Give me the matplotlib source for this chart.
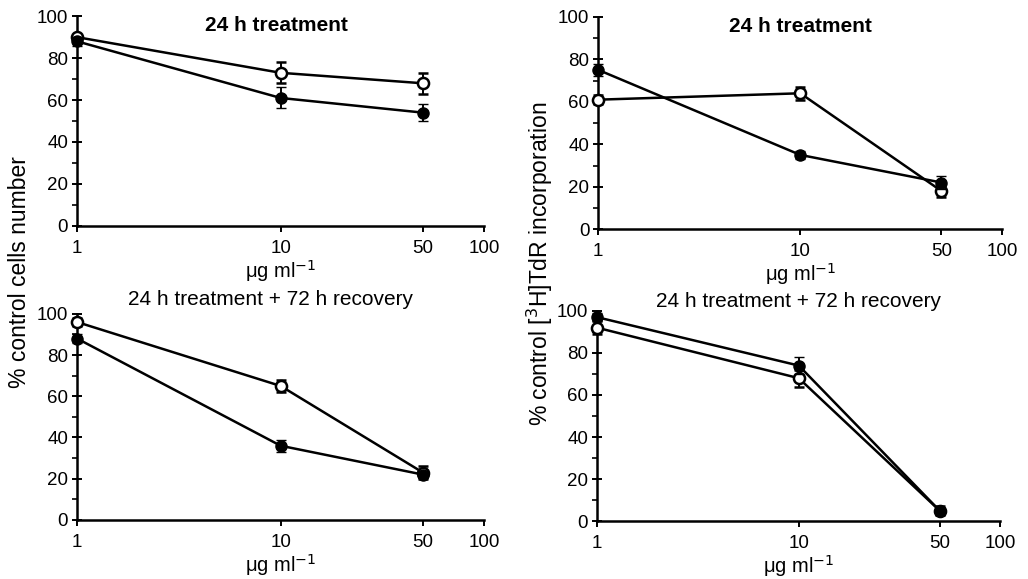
import matplotlib.pyplot as plt
from matplotlib.ticker import FixedLocator, MultipleLocator

plt.rcParams['font.family'] = ['Liberation Sans', 'DejaVu Sans']

dose = [1, 10, 50]

# 24 h treatment, cell number
cells_24_open = [90, 73, 68]
cells_24_open_err = [1, 5, 5]
cells_24_filled = [88, 61, 54]
cells_24_filled_err = [2, 5, 4]

# 24 h treatment, [3H]TdR incorporation
tdr_24_open = [61, 64, 18]
tdr_24_open_err = [2, 3, 3]
tdr_24_filled = [75, 35, 22]
tdr_24_filled_err = [3, 2, 3]

# 24 h treatment + 72 h recovery, cell number
cells_rec_open = [96, 65, 23]
cells_rec_open_err = [2, 3, 3]
cells_rec_filled = [88, 36, 22]
cells_rec_filled_err = [2, 3, 1]

# 24 h treatment + 72 h recovery, [3H]TdR incorporation
tdr_rec_open = [92, 68, 5]
tdr_rec_open_err = [3, 4, 2]
tdr_rec_filled = [97, 74, 5]
tdr_rec_filled_err = [2, 4, 1]

fig = plt.figure(figsize=(10.28, 5.79), dpi=100)

# (axes rect, series..., title, weight, title x, title y)
panels = [
    ([0.075, 0.610, 0.396, 0.362], cells_24_open, cells_24_open_err, cells_24_filled, cells_24_filled_err,
     '24 h treatment', 'bold', 0.49, 0.955),
    ([0.582, 0.604, 0.393, 0.367], tdr_24_open, tdr_24_open_err, tdr_24_filled, tdr_24_filled_err,
     '24 h treatment', 'bold', 0.50, 0.952),
    ([0.075, 0.102, 0.396, 0.356], cells_rec_open, cells_rec_open_err, cells_rec_filled, cells_rec_filled_err,
     '24 h treatment + 72 h recovery', 'normal', 0.474, 1.07),
    ([0.581, 0.100, 0.392, 0.363], tdr_rec_open, tdr_rec_open_err, tdr_rec_filled, tdr_rec_filled_err,
     '24 h treatment + 72 h recovery', 'normal', 0.50, 1.045),
]

for rect, yo, eo, yf, ef, title, weight, tx, ty in panels:
    ax = fig.add_axes(rect)
    ax.errorbar(dose, yo, yerr=eo, color='black', lw=1.8, marker='o', ms=8, mfc='white', mec='black',
                mew=1.8, capsize=3.5, elinewidth=1.4, zorder=3)
    ax.errorbar(dose, yf, yerr=ef, color='black', lw=1.8, marker='o', ms=8, mfc='black', mec='black',
                capsize=3.5, elinewidth=1.4, zorder=4)
    ax.set_xscale('log')
    ax.set_xlim(1, 100)
    ax.set_ylim(0, 100)
    ax.xaxis.set_major_locator(FixedLocator([1, 10, 50, 100]))
    ax.xaxis.set_minor_locator(FixedLocator([]))
    ax.set_xticklabels(['1', '10', '50', '100'])
    ax.yaxis.set_major_locator(MultipleLocator(20))
    ax.yaxis.set_minor_locator(MultipleLocator(10))
    for s in ['top', 'right']:
        ax.spines[s].set_visible(False)
    for s in ['left', 'bottom']:
        ax.spines[s].set_linewidth(1.8)
    ax.tick_params(which='major', width=1.4, labelsize=13.5)
    ax.tick_params(axis='y', which='major', direction='inout', length=7, pad=3)
    ax.tick_params(axis='y', which='minor', direction='out', length=3.5, width=1.2)
    ax.tick_params(axis='x', which='major', direction='out', length=4, pad=6)
    ax.set_xlabel('μg ml$^{-1}$', fontsize=14.5, labelpad=1)
    ax.patch.set_alpha(0)
    for art in ax.get_children():
        art.set_clip_on(False)
    ax.text(tx, ty, title, transform=ax.transAxes, ha='center', va='center', fontsize=15,
            fontweight=weight)

fig.text(0.019, 0.53, '% control cells number', rotation=90, ha='center', va='center', fontsize=16.5)
fig.text(0.525, 0.545, '% control [$^{3}$H]TdR incorporation', rotation=90, ha='center', va='center',
         fontsize=16.5)

fig.savefig('out.png', dpi=100)
